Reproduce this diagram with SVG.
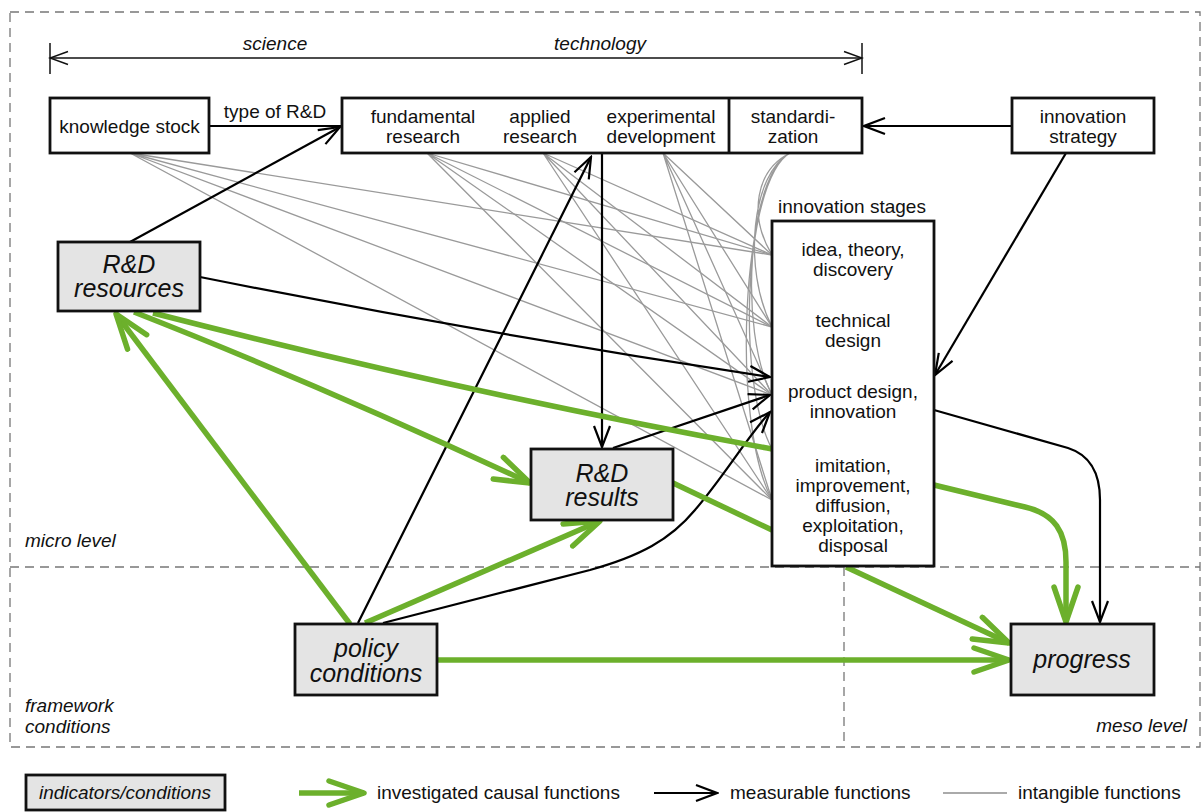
<svg xmlns="http://www.w3.org/2000/svg" width="1202" height="812" viewBox="0 0 1202 812">
<style>
text{font-family:"Liberation Sans",Arial,sans-serif;font-size:19px;fill:#111}
.c{text-anchor:middle}
.i{font-style:italic}
.big{font-size:25px;font-style:italic;text-anchor:middle}
.box{fill:#fff;stroke:#111;stroke-width:2.8}
.gbox{fill:#e4e4e4;stroke:#111;stroke-width:2.8}
.dash{fill:none;stroke:#777;stroke-width:1.3;stroke-dasharray:9 6}
.blk{fill:none;stroke:#000;stroke-width:2.2}
.grn{fill:none;stroke:#6cb02c;stroke-width:5.5}
.gry{fill:none;stroke:#9a9a9a;stroke-width:1.3}
.thin{fill:none;stroke:#111;stroke-width:1.5}
</style>
<defs>
<marker id="ab" viewBox="0 0 24 20" refX="22" refY="10" markerWidth="24" markerHeight="20" markerUnits="userSpaceOnUse" orient="auto"><path d="M1,2 L22,10 L1,18" fill="none" stroke="#000" stroke-width="2.2"/></marker>
<marker id="ag" viewBox="0 0 42 30" refX="38" refY="15" markerWidth="42" markerHeight="30" markerUnits="userSpaceOnUse" orient="auto"><path d="M3,3 L38,15 L3,27" fill="none" stroke="#6cb02c" stroke-width="5.5" stroke-linecap="round" stroke-linejoin="round"/></marker>
<marker id="at" viewBox="0 0 22 16" refX="20" refY="8" markerWidth="22" markerHeight="16" markerUnits="userSpaceOnUse" orient="auto-start-reverse"><path d="M2,1.5 L20,8 L2,14.5" fill="none" stroke="#111" stroke-width="1.5"/></marker>
</defs>
<rect width="1202" height="812" fill="#fff"/>

<g id="frame">
<rect x="10" y="12" width="1190" height="735" class="dash"/>
<line x1="10" y1="567" x2="1200" y2="567" class="dash"/>
<line x1="844" y1="567" x2="844" y2="747" class="dash"/>
<text x="25" y="547" class="i">micro level</text>
<text x="25" y="712" class="i">framework</text>
<text x="25" y="733" class="i">conditions</text>
<text x="1187" y="732" class="i" text-anchor="end">meso level</text>
</g>

<g id="scale">
<line x1="50" y1="58" x2="862" y2="58" class="thin" marker-start="url(#at)" marker-end="url(#at)"/>
<line x1="50" y1="43" x2="50" y2="74" class="thin"/>
<line x1="862" y1="43" x2="862" y2="74" class="thin"/>
<text x="275" y="50" class="c i">science</text>
<text x="600" y="50" class="c i">technology</text>
</g>

<g id="connectors">
<g id="intangible">
<path class="gry" d="M130,153 L772,255 M130,153 L772,327 M130,153 L772,395 M130,153 L772,500"/>
<path class="gry" d="M427,153 L772,255 M427,153 L772,327 M427,153 L772,395 M427,153 L772,500"/>
<path class="gry" d="M543,153 L772,255 M543,153 L772,327 M543,153 L772,395 M543,153 L772,500"/>
<path class="gry" d="M663,153 L772,255 M663,153 L772,327 M663,153 L772,395 M663,153 L772,500"/>
<path class="gry" d="M790,153 C756,170 748,215 772,255 M790,153 C752,173 742,268 772,327 M790,153 C748,176 738,330 772,395 M790,153 C745,178 735,380 772,449 M790,153 C742,180 730,420 772,500"/>
</g>
<g id="measurable">
<line x1="209" y1="126" x2="342" y2="126" class="blk"/>
<line x1="130" y1="242" x2="340" y2="127" class="blk" marker-end="url(#ab)"/>
<line x1="1012" y1="126" x2="864" y2="126" class="blk" marker-end="url(#ab)"/>
<line x1="1066" y1="153" x2="935" y2="375" class="blk" marker-end="url(#ab)"/>
<line x1="602" y1="153" x2="602" y2="447" class="blk" marker-end="url(#ab)"/>
<path d="M200,277 Q485,334 770,377" class="blk" marker-end="url(#ab)"/>
<line x1="613" y1="448" x2="770" y2="395" class="blk" marker-end="url(#ab)"/>
<line x1="358" y1="623" x2="591" y2="157" class="blk" marker-end="url(#ab)"/>
<path d="M383,623 L590,570 C640,556 670,540 695,510 C725,475 745,440 770,412" class="blk" marker-end="url(#ab)"/>
<path d="M934,410 L1068,448 C1090,455 1100,472 1100,500 L1100,622" class="blk" marker-end="url(#ab)"/>
</g>
<g id="causal">
<line x1="350" y1="624" x2="116" y2="314" class="grn" marker-end="url(#ag)"/>
<path d="M134,312 Q320,385 530,483" class="grn" marker-end="url(#ag)"/>
<path d="M153,313 Q460,392 772,449" class="grn"/>
<line x1="365" y1="623" x2="600" y2="521" class="grn" marker-end="url(#ag)"/>
<line x1="673" y1="483" x2="772" y2="530" class="grn"/>
<line x1="846" y1="567" x2="1009" y2="643" class="grn" marker-end="url(#ag)"/>
<line x1="437" y1="660" x2="1009" y2="660" class="grn" marker-end="url(#ag)"/>
<path d="M934,485 L1025,507 C1055,514 1066,532 1066,562 L1066,622" class="grn" marker-end="url(#ag)"/>
</g>
</g>

<g id="knowledge-stock">
<rect x="50" y="98" width="159" height="55" class="box"/>
<text x="129.5" y="133" class="c">knowledge stock</text>
</g>
<text x="275" y="118" class="c">type of R&amp;D</text>

<g id="rd-types">
<rect x="342" y="98" width="520" height="55" class="box"/>
<line x1="729" y1="98" x2="729" y2="153" stroke="#111" stroke-width="2.8"/>
<text x="423" y="123" class="c">fundamental</text>
<text x="423" y="143" class="c">research</text>
<text x="540" y="123" class="c">applied</text>
<text x="540" y="143" class="c">research</text>
<text x="661" y="123" class="c">experimental</text>
<text x="661" y="143" class="c">development</text>
<text x="793" y="123" class="c">standardi-</text>
<text x="793" y="143" class="c">zation</text>
</g>

<g id="innovation-strategy">
<rect x="1012" y="98" width="142" height="55" class="box"/>
<text x="1083" y="123" class="c">innovation</text>
<text x="1083" y="143" class="c">strategy</text>
</g>

<g id="innovation-stages">
<text x="852" y="213" class="c">innovation stages</text>
<rect x="772" y="221" width="162" height="345" class="box"/>
<text x="853" y="256" class="c">idea, theory,</text>
<text x="853" y="276" class="c">discovery</text>
<text x="853" y="327" class="c">technical</text>
<text x="853" y="347" class="c">design</text>
<text x="853" y="398" class="c">product design,</text>
<text x="853" y="418" class="c">innovation</text>
<text x="853" y="472" class="c">imitation,</text>
<text x="853" y="492" class="c">improvement,</text>
<text x="853" y="512" class="c">diffusion,</text>
<text x="853" y="532" class="c">exploitation,</text>
<text x="853" y="552" class="c">disposal</text>
</g>

<g id="rd-resources">
<rect x="58" y="242" width="142" height="69" class="gbox"/>
<text x="129" y="273" class="big">R&amp;D</text>
<text x="129" y="297" class="big">resources</text>
</g>

<g id="rd-results">
<rect x="531" y="449" width="142" height="71" class="gbox"/>
<text x="602" y="482" class="big">R&amp;D</text>
<text x="602" y="506" class="big">results</text>
</g>

<g id="policy-conditions">
<rect x="295" y="624" width="142" height="71" class="gbox"/>
<text x="366" y="657" class="big">policy</text>
<text x="366" y="682" class="big">conditions</text>
</g>

<g id="progress">
<rect x="1011" y="624" width="143" height="71" class="gbox"/>
<text x="1082" y="668" class="big">progress</text>
</g>

<g id="legend">
<rect x="26" y="775" width="199" height="35" class="gbox"/>
<text x="125" y="799" class="c i">indicators/conditions</text>
<line x1="299" y1="793" x2="364" y2="793" class="grn" marker-end="url(#ag)"/>
<text x="377" y="799">investigated causal functions</text>
<line x1="654" y1="793" x2="717" y2="793" class="blk" marker-end="url(#ab)"/>
<text x="730" y="799">measurable functions</text>
<line x1="943" y1="793" x2="1007" y2="793" stroke="#aaa" stroke-width="2"/>
<text x="1018" y="799">intangible functions</text>
</g>
</svg>
